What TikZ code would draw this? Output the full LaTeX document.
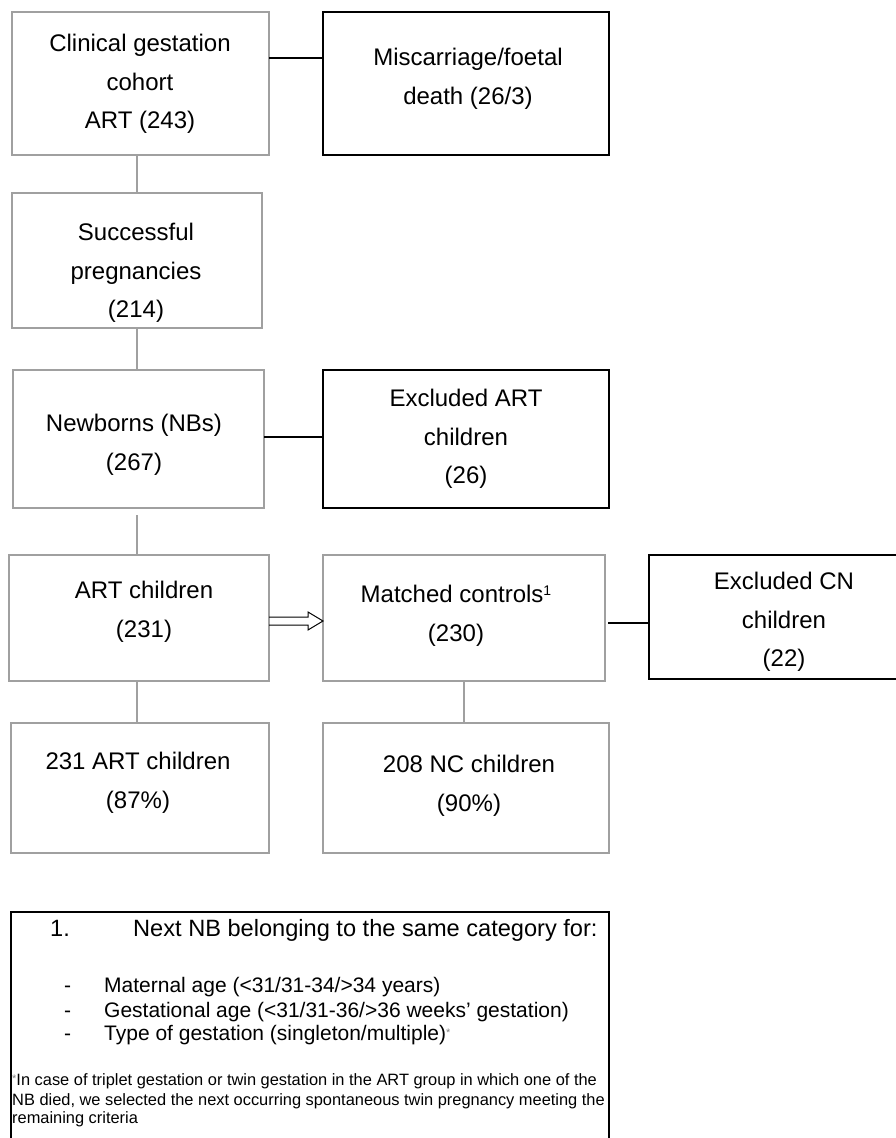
\documentclass[tikz,border=0pt]{standalone}
\usepackage{fontspec}
\setmainfont{Liberation Sans}
\usetikzlibrary{calc}
\definecolor{boxgray}{HTML}{A0A0A0}
\definecolor{stargray}{HTML}{808080}
\begin{document}
\begin{tikzpicture}[x=1pt,y=-1pt,
  gbox/.style={draw=boxgray, line width=1.5pt, fill=none, inner sep=0pt, outer sep=0pt, anchor=north west},
  kbox/.style={draw=black, line width=2pt, fill=none, inner sep=0pt, outer sep=0pt, anchor=north west},
  nbox/.style={draw=black, line width=1.4pt, fill=none, inner sep=0pt, outer sep=0pt, anchor=north west},
  txt/.style={font=\fontsize{24}{38.5}\selectfont, align=center, inner sep=0pt, text=black},
  ntxt/.style={font=\fontsize{23.6}{28}\selectfont, inner sep=0pt, anchor=base west},
  btxt/.style={font=\fontsize{21}{24}\selectfont, inner sep=0pt, anchor=base west},
  ftxt/.style={font=\fontsize{16.4}{20}\selectfont, inner sep=0pt, anchor=base west},
  gline/.style={draw=boxgray, line width=1.5pt},
  kline/.style={draw=black, line width=2pt},
  harrow/.style={draw=black, line width=1pt, line join=miter}
]
\useasboundingbox (0,0) rectangle (896,1138);
\clip (0,0) rectangle (896,1138);

% boxes
\node[gbox, minimum width=257pt, minimum height=143pt] (bA) at (12,12) {};
\node[kbox, minimum width=286pt, minimum height=143pt] (bMis) at (323,12) {};
\node[gbox, minimum width=250pt, minimum height=135pt] (bSuc) at (12,193) {};
\node[gbox, minimum width=251pt, minimum height=138pt] (bNB) at (13,370) {};
\node[kbox, minimum width=286pt, minimum height=138pt] (bExA) at (323,370) {};
\node[gbox, minimum width=260pt, minimum height=126pt] (bART) at (9,555) {};
\node[gbox, minimum width=282pt, minimum height=126pt] (bMat) at (323,555) {};
\node[kbox, minimum width=271pt, minimum height=124pt] (bExC) at (649,555) {};
\node[gbox, minimum width=258pt, minimum height=130pt] (b231) at (11,723) {};
\node[gbox, minimum width=286pt, minimum height=130pt] (b208) at (323,723) {};
\node[nbox, minimum width=598pt, minimum height=260pt] (note) at (11,912) {};

% box texts
\node[txt] (tA) at (140,84) {Clinical gestation\\cohort\\ART (243)};
\node[txt] (tMis) at (468,79) {Miscarriage/foetal\\death (26/3)};
\node[txt] (tSuc) at (136,273) {Successful\\pregnancies\\(214)};
\node[txt] (tNB) at (134,445) {Newborns (NBs)\\(267)};
\node[txt] (tExA) at (466,439) {Excluded ART\\children\\(26)};
\node[txt] (tART) at (144,612) {ART children\\(231)};
\node[txt] (tMat) at (456,616) {Matched controls{\fontsize{14}{14}\selectfont\raisebox{7pt}{1}}\\(230)};
\node[txt] (tExC) at (784,622) {Excluded CN\\children\\(22)};
\node[txt] (t231) at (138,783) {231 ART children\\(87\%)};
\node[txt] (t208) at (469,786) {208 NC children\\(90\%)};

% vertical connectors
\draw[gline] (bSuc.north |- bA.south) -- (bSuc.north);
\draw[gline] (bSuc.north |- bSuc.south) -- (bSuc.north |- bNB.north);
\coordinate (nbgap) at ($(bNB.south)+(0,7)$);
\draw[gline] (bSuc.north |- nbgap) -- (bSuc.north |- bART.north);
\draw[gline] (bSuc.north |- bART.south) -- (bSuc.north |- b231.north);
\draw[gline] (bMat.south) -- (bMat.south |- b208.north);

% horizontal connectors to excluded boxes
\coordinate (cA) at ($(bA.north east)+(0,46)$);
\draw[kline] (cA) -- (bMis.west |- cA);
\coordinate (cNB) at ($(bNB.north east)+(0,67)$);
\draw[kline] (cNB) -- (bExA.west |- cNB);
\coordinate (cMat) at ($(bMat.north east)+(3,68)$);
\draw[kline] (cMat) -- (bExC.west |- cMat);

% hollow arrow ART children -> Matched controls
\coordinate (at) at ($(bART.north east)+(0,66)$);
\coordinate (ah) at (bMat.west |- at);
\draw[harrow] ($(at)+(0,-4)$) -- ($(ah)+(-15,-4)$) -- ($(ah)+(-15,-9)$) -- (ah)
   -- ($(ah)+(-15,9)$) -- ($(ah)+(-15,4)$) -- ($(at)+(0,4)$);

% note texts
\node[ntxt] (n1) at (50,936) {1.};
\node[ntxt] (n1t) at (133,936) {Next NB belonging to the same category for:};
\node[btxt] (d1) at (64,992) {-};
\node[btxt] (b1) at (104,992) {Maternal age (<31/31-34/>34 years)};
\node[btxt] (d2) at (64,1017) {-};
\node[btxt] (b2) at (104,1017) {Gestational age (<31/31-36/>36 weeks’ gestation)};
\node[btxt] (d3) at (64,1040) {-};
\node[btxt] (b3) at (104,1040) {Type of gestation (singleton/multiple){\fontsize{11}{11}\selectfont\color{stargray}\raisebox{4pt}{*}}};
\node[ftxt] (f1) at (12,1085) {{\fontsize{11}{11}\selectfont\color{stargray}\raisebox{3pt}{*}}In case of triplet gestation or twin gestation in the ART group in which one of the};
\node[ftxt] (f2) at (12,1105) {NB died, we selected the next occurring spontaneous twin pregnancy meeting the};
\node[ftxt] (f3) at (12,1123) {remaining criteria};
\end{tikzpicture}
\end{document}
